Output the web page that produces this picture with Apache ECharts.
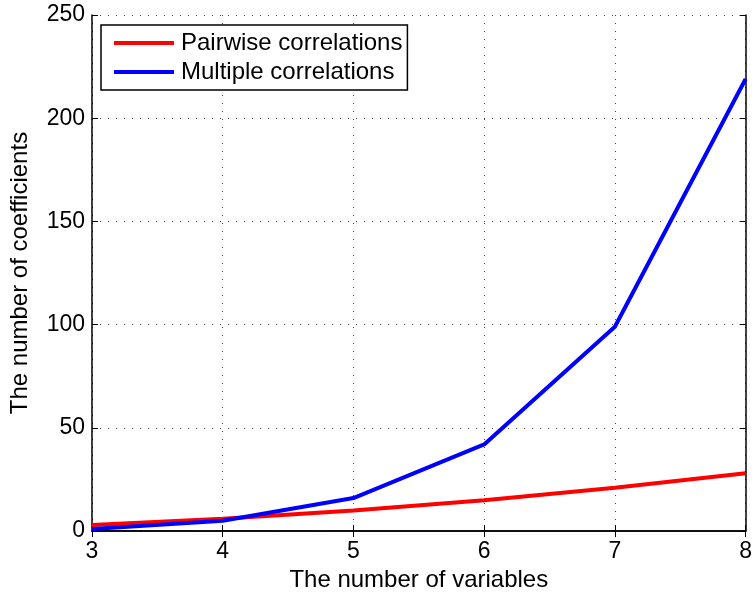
<!DOCTYPE html>
<html>
<head>
<meta charset="utf-8">
<script src="https://cdn.jsdelivr.net/npm/echarts@6/dist/echarts.min.js"></script>
<style>
  html, body { margin: 0; padding: 0; background: #fff; }
  #chart { width: 755px; height: 597px; }
</style>
</head>
<body>
<div id="chart"></div>
<script>
// Number of variables on the x axis
const variables = [3, 4, 5, 6, 7, 8];
// Coefficient counts for each model
const pairwise = [3, 6, 10, 15, 21, 28];
const multiple = [1, 5, 16, 42, 99, 219];
const seriesNames = ['Pairwise correlations', 'Multiple correlations'];

const FONT = 'Liberation Sans, Arial, Helvetica, sans-serif';
const pair = (xs, ys) => xs.map((x, i) => [x, ys[i]]);

const gridDash = { color: '#444', width: 1, type: [1, 7] };
const frameLine = { show: true, lineStyle: { color: '#000', width: 1.5 } };
const innerTick = { show: true, inside: true, length: 6, lineStyle: { color: '#000', width: 1 } };

const chart = echarts.init(document.getElementById('chart'), null, { renderer: 'canvas' });
chart.setOption({
  animation: false,
  backgroundColor: '#fff',
  grid: { left: 92, top: 15, right: 9, bottom: 65, containLabel: false },
  legend: {
    left: 101, top: 25,
    orient: 'vertical',
    backgroundColor: '#fff',
    borderColor: '#000', borderWidth: 1.5,
    padding: [6, 5, 6, 13],
    itemWidth: 60, itemHeight: 4, itemGap: 5,
    icon: 'rect',
    textStyle: { fontFamily: FONT, fontSize: 24, color: '#000', lineHeight: 24, padding: [0, 0, 0, 2] },
    data: seriesNames
  },
  xAxis: [{
    type: 'value', min: 3, max: 8, interval: 1,
    name: 'The number of variables', nameLocation: 'middle', nameGap: 35,
    nameTextStyle: { fontFamily: FONT, fontSize: 24, color: '#000' },
    axisLine: frameLine, axisTick: innerTick,
    axisLabel: { fontFamily: FONT, fontSize: 23, color: '#000', margin: 9 },
    splitLine: { show: true, lineStyle: gridDash }
  }, {
    type: 'value', min: 3, max: 8, interval: 1, position: 'top',
    axisLine: frameLine, axisTick: innerTick, axisLabel: { show: false }, splitLine: { show: false }
  }],
  yAxis: [{
    type: 'value', min: 0, max: 250, interval: 50,
    name: 'The number of coefficients', nameLocation: 'middle', nameGap: 60,
    nameTextStyle: { fontFamily: FONT, fontSize: 24, color: '#000' },
    axisLine: frameLine, axisTick: innerTick,
    axisLabel: { fontFamily: FONT, fontSize: 23, color: '#000', margin: 7 },
    splitLine: { show: true, lineStyle: gridDash }
  }, {
    type: 'value', min: 0, max: 250, interval: 50, position: 'right',
    axisLine: frameLine, axisTick: innerTick, axisLabel: { show: false }, splitLine: { show: false }
  }],
  series: [{
    name: seriesNames[0], type: 'line', data: pair(variables, pairwise),
    showSymbol: false, color: '#ff0000', lineStyle: { width: 4, color: '#ff0000' }, z: 3
  }, {
    name: seriesNames[1], type: 'line', data: pair(variables, multiple),
    showSymbol: false, color: '#0000ff', lineStyle: { width: 4, color: '#0000ff' }, z: 4
  }]
});
</script>
</body>
</html>
